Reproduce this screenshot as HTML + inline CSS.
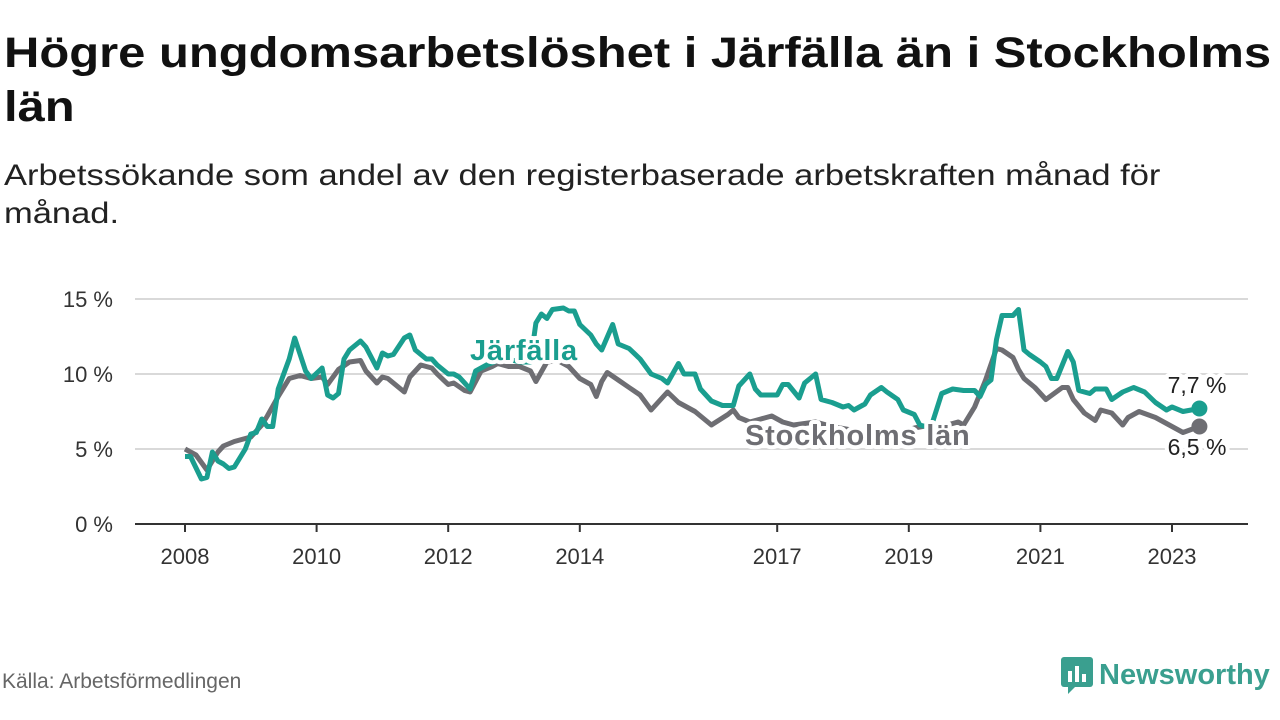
<!DOCTYPE html>
<html><head><meta charset="utf-8">
<style>
body{margin:0;width:1280px;height:720px;background:#fff;font-family:"Liberation Sans",sans-serif;overflow:hidden;position:relative}
.t{position:absolute;left:4px;top:26px;font-size:43px;font-weight:bold;color:#111;line-height:54px;white-space:nowrap;transform-origin:0 0;transform:scaleX(1.138)}
.s{position:absolute;left:4px;top:157px;font-size:30px;color:#222;line-height:38px;white-space:nowrap;transform-origin:0 0;transform:scaleX(1.15)}
.src{position:absolute;left:2px;top:670px;font-size:21px;color:#666}
.logo{position:absolute;left:1060px;top:656px;display:flex;align-items:center}
</style></head><body>
<div class="t">Högre ungdomsarbetslöshet i Järfälla än i Stockholms<br>län</div>
<div class="s">Arbetssökande som andel av den registerbaserade arbetskraften månad för<br>månad.</div>
<svg id="chart" width="1280" height="720" style="position:absolute;left:0;top:0"></svg>
<div class="src">Källa: Arbetsförmedlingen</div>
<div class="logo">
<svg width="34" height="38"><rect x="1" y="1" width="32" height="30" rx="3" fill="#3a9f8f"/><polygon points="8,31 8,38 15,31" fill="#3a9f8f"/><rect x="8" y="15" width="4" height="11" fill="#fff"/><rect x="15" y="10" width="4" height="16" fill="#fff"/><rect x="22" y="18" width="4" height="8" fill="#fff"/></svg>
<span style="font-size:29px;font-weight:bold;color:#3a9f8f;margin-left:5px">Newsworthy</span></div>
<script>
const yTicks=[0,5,10,15];
const yTickLabels=["0 %","5 %","10 %","15 %"];
const xTickYears=[2008,2010,2012,2014,2017,2019,2021,2023];
// months since Jan 2008
const jMonths=[0,1,3,4,5,6,7,8,9,11,12,13,14,15,16,17,19,20,22,23,25,26,27,28,29,30,32,33,35,36,37,38,40,41,42,44,45,46,48,49,50,52,53,55,57,59,61,63,64,65,66,67,69,70,71,72,74,75,76,78,79,81,83,85,87,88,90,91,93,94,96,98,100,101,103,104,105,108,109,110,112,113,115,116,118,120,121,122,124,125,127,128,130,131,133,134,136,138,140,142,144,145,146,147,148,149,151,152,153,154,156,157,158,159,161,162,163,165,166,168,169,171,173,175,177,179,180,182,185];
const jValues=[4.5,4.5,3.0,3.1,4.8,4.2,4.0,3.7,3.8,5.0,6.0,6.1,7.0,6.5,6.5,9.0,11.0,12.4,10.2,9.7,10.4,8.6,8.4,8.7,11.0,11.6,12.2,11.8,10.4,11.4,11.2,11.3,12.4,12.6,11.6,11.0,11.0,10.6,10.0,10.0,9.8,9.0,10.2,10.6,10.9,11.0,10.8,10.8,13.4,14.0,13.7,14.3,14.4,14.2,14.2,13.3,12.6,12.0,11.6,13.3,12.0,11.7,11.0,10.0,9.7,9.4,10.7,10.0,10.0,9.0,8.2,7.9,7.9,9.2,10.0,9.0,8.6,8.6,9.3,9.3,8.4,9.4,10.0,8.3,8.1,7.8,7.9,7.6,8.0,8.6,9.1,8.8,8.3,7.6,7.3,6.6,6.4,8.7,9.0,8.9,8.9,8.5,9.3,9.6,12.3,13.9,13.9,14.3,11.6,11.3,10.8,10.5,9.7,9.7,11.5,10.8,8.9,8.7,9.0,9.0,8.3,8.8,9.1,8.8,8.1,7.6,7.8,7.5,7.7];
const sMonths=[0,2,4,5,6,7,9,12,14,15,17,19,21,23,25,26,28,30,32,33,35,36,37,40,41,43,45,46,48,49,51,52,54,56,57,59,61,63,64,66,68,70,72,74,75,76,77,79,81,83,85,88,90,93,96,99,100,101,103,105,107,109,111,115,118,121,124,127,130,133,136,139,141,142,144,146,148,149,151,152,153,155,157,160,161,162,164,166,167,169,171,172,174,177,180,182,185];
const sValues=[5.0,4.6,3.6,4.2,4.8,5.2,5.5,5.8,6.6,7.2,8.5,9.7,9.9,9.7,9.8,9.3,10.3,10.8,10.9,10.2,9.4,9.8,9.7,8.8,9.8,10.6,10.4,10.0,9.3,9.4,8.9,8.8,10.2,10.5,10.7,10.5,10.5,10.2,9.5,10.8,10.9,10.5,9.7,9.3,8.5,9.5,10.1,9.6,9.1,8.6,7.6,8.8,8.1,7.5,6.6,7.3,7.6,7.1,6.8,7.0,7.2,6.8,6.6,6.8,6.5,6.3,6.2,6.0,6.1,6.4,6.6,6.6,6.8,6.6,7.8,9.6,11.7,11.6,11.1,10.3,9.7,9.1,8.3,9.1,9.1,8.3,7.4,6.9,7.6,7.4,6.6,7.1,7.5,7.1,6.5,6.1,6.5];
const ns="http://www.w3.org/2000/svg";
const svg=document.getElementById('chart');
const X0=185,PXM=65.8/12,Y0=524,PXV=15;
const xm=m=>X0+m*PXM, yv=v=>Y0-v*PXV, xy=yr=>xm((yr-2008)*12);
function el(t,a,txt){const e=document.createElementNS(ns,t);for(const k in a)e.setAttribute(k,a[k]);if(txt!=null)e.textContent=txt;svg.appendChild(e);return e;}
yTicks.forEach((v,i)=>{
 if(v>0){const g=el('line',{x1:135,x2:1248,y1:yv(v),y2:yv(v),stroke:'#d9d9d9','stroke-width':2});
 
 }
 const t=el('text',{x:113,y:yv(v)+8,'text-anchor':'end','font-size':22,fill:'#333'},yTickLabels[i]);
 
 
});
const ax=el('line',{x1:135,x2:1248,y1:Y0,y2:Y0,stroke:'#333','stroke-width':2});


xTickYears.forEach(yr=>{
 const l=el('line',{x1:xy(yr),x2:xy(yr),y1:Y0,y2:Y0+8,stroke:'#333','stroke-width':2});
 
 
 const t=el('text',{x:xy(yr),y:564,'text-anchor':'middle','font-size':22,fill:'#333'},String(yr));
 
 
});
function line(ms,vs,c,name){
 const d=ms.map((m,i)=>(i?'L':'M')+xm(m).toFixed(1)+','+yv(vs[i]).toFixed(1)).join('');
 const p=el('path',{d:d,fill:'none',stroke:c,'stroke-width':5,'stroke-linejoin':'round'});
 
 
 const n=ms.length-1;
 const dot=el('circle',{cx:xm(ms[n]),cy:yv(vs[n]),r:8,fill:c});
 
 
}
const TEAL='#1a9e8f',GRAY='#6e6e73';
line(sMonths,sValues,GRAY,'stockholm-line');
line(jMonths,jValues,TEAL,'jarfalla-line');
function lab(x,y,txt,c,name,anchor,size,bold,ls){
 const h=el('text',{x:x,y:y,'font-size':size,'font-weight':bold?'bold':'normal',fill:'#fff',stroke:'#fff','stroke-width':8,'stroke-linejoin':'round','text-anchor':anchor,'letter-spacing':ls});
 h.textContent=txt;
 
 
 const t=el('text',{x:x,y:y,'font-size':size,'font-weight':bold?'bold':'normal',fill:c,'text-anchor':anchor,'letter-spacing':ls},txt);
 
 
}
lab(470,360,'Järfälla',TEAL,'jarfalla-label','start',29,true,0.8);
lab(745,445,'Stockholms län',GRAY,'stockholm-label','start',29,true,0.8);
lab(1197,393,jValues[jValues.length-1].toFixed(1).replace('.',',')+' %','#222','jarfalla-end-value','middle',23,false,0);
lab(1197,455,sValues[sValues.length-1].toFixed(1).replace('.',',')+' %','#222','stockholm-end-value','middle',23,false,0);
</script>
</body></html>
